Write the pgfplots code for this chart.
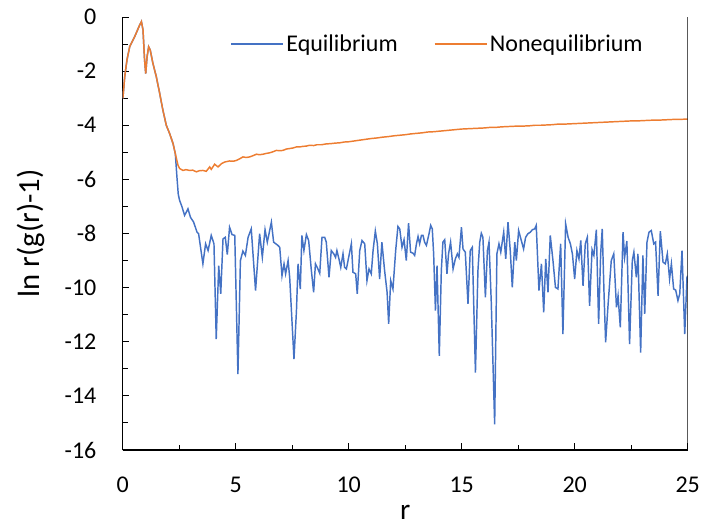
\documentclass[border=0pt]{standalone}
\usepackage{fontspec}
\setmainfont{Carlito}
\usepackage{pgfplots}
\pgfplotsset{compat=1.18}
\definecolor{exblue}{HTML}{4472C4}
\definecolor{exorange}{HTML}{ED7D31}
\begin{document}
\begin{tikzpicture}
\begin{axis}[
  scale only axis,
  width=423.75pt, height=324.75pt,
  xmin=0, xmax=25, ymin=-16, ymax=0,
  axis x line*=bottom, axis y line*=left,
  axis line style={line width=1pt, black, -},
  xtick={0,5,10,15,20,25},
  xticklabels={0,5,10,15,20,25},
  ytick={-16,-14,-12,-10,-8,-6,-4,-2,0},
  yticklabels={-16,-14,-12,-10,-8,-6,-4,-2,0},
  minor x tick num=1, minor y tick num=1,
  tick align=inside,
  major tick length=5pt, minor tick length=4pt,
  tick style={line width=0.7pt, black},
  xticklabel style={anchor=center, yshift=-26pt, font=\fontsize{18}{21}\selectfont},
  yticklabel style={anchor=east, inner sep=0pt, xshift=-19.5pt, font=\fontsize{18}{21}\selectfont},
  xlabel={r}, ylabel={ln r(g(r)-1)},
  xlabel style={at={(axis description cs:0.5,-0.143)}, anchor=center, font=\fontsize{22}{26}\selectfont},
  ylabel style={at={(axis description cs:-0.163,0.5)}, anchor=center, rotate=0, font=\fontsize{23}{27}\selectfont},
  legend columns=2,
  legend style={draw=none, fill=none, at={(0.19,0.938)}, anchor=west,
    font=\fontsize{18}{21}\selectfont, /tikz/every even column/.append style={column sep=25pt},
    inner sep=0pt, nodes={inner sep=2pt}},
  legend image code/.code={\draw[#1] (0pt,0pt) -- (39pt,0pt);},
  clip=true,
]
\addplot[exblue, line width=1.1pt] coordinates {
(0.01,-3.01)(0.09,-2.21)(0.19,-1.59)(0.31,-1.10)(0.53,-0.73)(0.75,-0.30)(0.83,-0.17)(0.90,-0.48)
(0.97,-1.59)(1.02,-2.09)(1.08,-1.47)(1.15,-1.10)(1.22,-1.22)(1.34,-1.72)(1.49,-2.21)(1.64,-2.83)
(1.78,-3.44)(1.93,-4.00)(2.08,-4.31)(2.23,-4.68)(2.33,-5.05)
(2.40,-5.90)(2.46,-6.55)(2.52,-6.78)(2.62,-7.00)(2.74,-7.33)(2.89,-7.09)(3.00,-7.40)(3.14,-7.58)
(3.29,-7.95)(3.36,-8.01)(3.55,-9.12)(3.67,-8.38)(3.78,-8.63)(3.92,-8.07)(4.04,-8.38)(4.14,-11.90)
(4.25,-9.19)(4.34,-10.23)(4.44,-8.20)(4.54,-8.14)(4.63,-8.78)(4.73,-7.77)(4.84,-8.04)(4.96,-8.07)
(5.10,-13.20)(5.21,-9.00)(5.32,-8.65)(5.43,-8.81)(5.55,-8.14)(5.69,-7.83)(5.88,-10.11)(6.06,-8.01)
(6.18,-8.88)(6.30,-7.86)(6.40,-8.32)(6.58,-7.58)(6.68,-8.32)(6.87,-8.44)(6.95,-8.51)(7.05,-9.56)
(7.14,-9.12)(7.21,-9.49)(7.32,-9.00)(7.39,-9.62)(7.58,-12.64)(7.69,-10.85)(7.76,-9.12)(7.86,-10.05)
(7.93,-8.07)(8.02,-8.63)(8.13,-8.04)(8.23,-8.26)(8.35,-9.37)(8.45,-10.17)(8.53,-9.12)(8.64,-9.31)
(8.72,-9.47)(8.82,-8.14)(8.94,-8.14)(9.01,-8.32)(9.13,-9.62)(9.23,-8.63)(9.34,-8.75)(9.42,-8.88)
(9.48,-8.63)(9.57,-8.94)(9.65,-9.25)(9.75,-8.75)(9.82,-9.25)(9.90,-9.31)(10.00,-8.88)(10.12,-8.38)
(10.19,-9.43)(10.31,-9.49)(10.38,-10.23)(10.49,-8.63)(10.59,-8.26)(10.71,-8.38)(10.81,-9.74)(10.90,-9.31)
(11.00,-9.49)(11.08,-8.63)(11.18,-7.91)(11.27,-8.38)(11.37,-9.68)(11.47,-8.32)(11.59,-9.37)(11.70,-10.17)
(11.77,-11.34)(11.86,-9.74)(11.96,-10.05)(12.08,-8.63)(12.18,-7.74)(12.26,-7.83)(12.36,-8.51)(12.45,-8.23)
(12.55,-9.00)(12.65,-7.62)(12.74,-8.69)(12.85,-8.73)(12.92,-8.81)(13.00,-8.38)(13.07,-8.11)(13.14,-8.38)
(13.22,-8.07)(13.29,-8.07)(13.36,-8.32)(13.44,-8.44)(13.54,-8.07)(13.63,-7.70)(13.70,-7.83)(13.76,-8.75)
(13.84,-10.85)(13.91,-9.19)(14.01,-12.52)(14.10,-9.37)(14.17,-8.32)(14.25,-8.23)(14.35,-9.49)(14.42,-8.75)
(14.51,-8.32)(14.62,-9.31)(14.72,-8.94)(14.81,-8.75)(14.88,-8.88)(14.99,-7.77)(15.06,-8.57)(15.16,-8.69)
(15.28,-10.60)(15.38,-8.63)(15.47,-8.51)(15.61,-13.14)(15.72,-9.37)(15.80,-8.32)(15.87,-7.99)(15.94,-8.14)
(16.05,-10.36)(16.14,-8.63)(16.21,-8.32)(16.31,-10.54)(16.46,-15.05)(16.56,-8.75)(16.65,-8.38)(16.73,-8.69)
(16.86,-7.95)(16.95,-8.94)(17.05,-7.58)(17.15,-8.63)(17.24,-9.99)(17.35,-8.32)(17.42,-9.00)(17.52,-7.89)
(17.64,-8.26)(17.74,-8.57)(17.83,-8.14)(17.93,-8.01)(18.04,-7.95)(18.13,-7.86)(18.23,-7.83)(18.30,-7.70)
(18.42,-10.11)(18.53,-9.12)(18.63,-10.91)(18.72,-8.94)(18.82,-10.17)(18.92,-8.07)(19.04,-9.00)(19.15,-9.99)
(19.26,-10.05)(19.38,-8.38)(19.48,-11.72)(19.60,-7.64)(19.71,-8.14)(19.81,-8.38)(19.90,-8.75)(20.00,-9.68)
(20.10,-8.63)(20.19,-8.94)(20.27,-8.26)(20.37,-9.93)(20.47,-8.38)(20.56,-8.14)(20.66,-10.67)(20.77,-8.60)
(20.85,-8.81)(20.96,-7.86)(21.06,-11.34)(21.15,-8.75)(21.22,-7.83)(21.30,-10.23)(21.37,-12.02)(21.47,-10.73)
(21.62,-9.00)(21.73,-8.75)(21.85,-10.73)(21.92,-10.30)(22.02,-11.47)(22.14,-7.95)(22.21,-8.88)(22.31,-8.28)
(22.43,-12.09)(22.55,-9.00)(22.62,-8.69)(22.73,-9.62)(22.80,-8.75)(22.92,-12.40)(23.02,-8.81)(23.10,-10.97)
(23.20,-8.32)(23.29,-7.95)(23.39,-7.89)(23.50,-8.38)(23.58,-8.32)(23.69,-10.30)(23.79,-7.91)(23.91,-9.06)
(24.01,-9.12)(24.10,-8.75)(24.20,-9.68)(24.28,-9.12)(24.38,-10.05)(24.47,-10.09)(24.57,-10.48)(24.65,-10.23)
(24.75,-8.63)(24.87,-11.72)(24.97,-9.62)(25.00,-9.56)
};
\addlegendentry{Equilibrium}
\addplot[exorange, line width=1.1pt] coordinates {
(0.01,-3.01)(0.09,-2.21)(0.19,-1.59)(0.31,-1.10)(0.53,-0.73)(0.75,-0.30)(0.83,-0.17)(0.90,-0.48)
(0.97,-1.59)(1.02,-2.09)(1.08,-1.47)(1.15,-1.10)(1.22,-1.22)(1.34,-1.72)(1.49,-2.21)(1.64,-2.83)
(1.78,-3.44)(1.93,-4.00)(2.08,-4.31)(2.23,-4.68)(2.33,-5.05)
(2.45,-5.48)(2.52,-5.60)(2.67,-5.67)(2.80,-5.64)(2.96,-5.67)(3.10,-5.66)(3.26,-5.72)(3.40,-5.68)
(3.55,-5.67)(3.70,-5.70)(3.85,-5.54)(3.92,-5.63)(4.07,-5.44)(4.22,-5.54)(4.37,-5.42)(4.51,-5.36)
(4.73,-5.32)(4.90,-5.33)(5.03,-5.30)(5.18,-5.24)(5.32,-5.17)(5.47,-5.19)(5.62,-5.17)(5.78,-5.12)
(5.92,-5.07)(6.06,-5.09)(6.21,-5.07)(6.36,-5.04)(6.50,-5.02)(6.65,-4.98)(6.80,-4.93)(6.95,-4.94)
(7.09,-4.93)(7.24,-4.88)(7.39,-4.86)(7.54,-4.84)(7.69,-4.80)(7.84,-4.80)(7.98,-4.78)(8.13,-4.77)
(8.27,-4.74)(8.45,-4.75)(8.60,-4.72)(8.80,-4.72)(9.00,-4.69)(9.20,-4.68)(9.40,-4.66)(9.60,-4.65)
(9.80,-4.62)(10.00,-4.61)(10.25,-4.58)(10.50,-4.55)(10.75,-4.52)(11.00,-4.49)(11.25,-4.47)(11.50,-4.44)
(11.75,-4.42)(12.00,-4.39)(12.25,-4.37)(12.50,-4.35)(12.75,-4.32)(13.00,-4.30)(13.25,-4.28)(13.50,-4.25)
(13.75,-4.24)(14.00,-4.22)(14.25,-4.20)(14.50,-4.18)(14.75,-4.16)(15.00,-4.14)(15.25,-4.13)(15.50,-4.12)
(15.75,-4.11)(16.00,-4.10)(16.25,-4.08)(16.50,-4.08)(16.75,-4.06)(17.00,-4.05)(17.25,-4.04)(17.50,-4.03)
(17.75,-4.03)(18.00,-4.02)(18.25,-4.00)(18.50,-4.00)(18.75,-3.99)(19.00,-3.98)(19.25,-3.96)(19.50,-3.96)
(19.75,-3.95)(20.00,-3.94)(20.25,-3.93)(20.50,-3.92)(20.75,-3.91)(21.00,-3.90)(21.25,-3.89)(21.50,-3.88)
(21.75,-3.87)(22.00,-3.86)(22.25,-3.85)(22.50,-3.84)(22.75,-3.84)(23.00,-3.83)(23.25,-3.82)(23.50,-3.81)
(23.75,-3.81)(24.00,-3.80)(24.25,-3.79)(24.50,-3.78)(24.75,-3.78)(25.00,-3.77)
};
\addlegendentry{Nonequilibrium}
\draw[line width=1pt, black] (rel axis cs:1,0) -- (rel axis cs:1,1);
\end{axis}
\pgfresetboundingbox
\path (-92pt,-56.25pt) rectangle (436pt,337.5pt);
\end{tikzpicture}
\end{document}
